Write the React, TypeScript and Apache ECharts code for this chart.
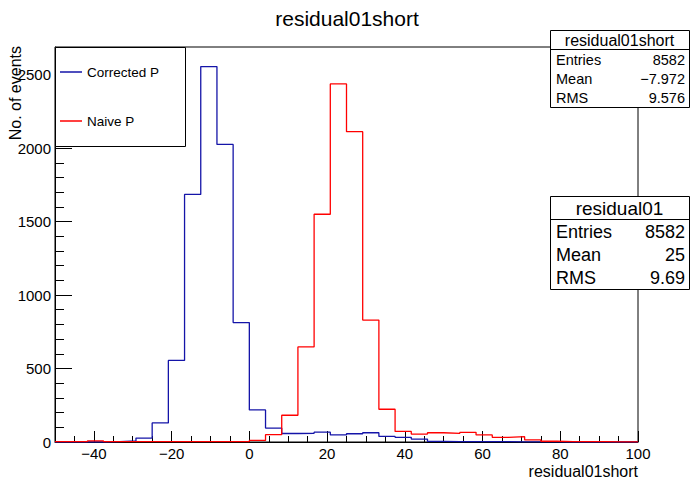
import React, { useEffect, useRef } from "react";
import * as echarts from "echarts";

const BIN_MIN = -50;
const BIN_MAX = 100;
const N_BINS = 36;

const correctedP = [0, 0, 0, 3, 7, 27, 130, 555, 1685, 2555, 2025, 813, 218, 95, 58, 59, 67, 48, 56, 63, 38, 32, 20, 4, 3, 3, 2, 2, 1, 1, 1, 0, 0, 0, 0, 0];
const naiveP = [2, 2, 7, 2, 2, 2, 2, 2, 2, 2, 3, 3, 11, 50, 182, 647, 1550, 2437, 2112, 830, 223, 72, 54, 63, 59, 66, 48, 32, 36, 14, 5, 3, 2, 2, 1, 1];

const xMajorTicks = [-40, -20, 0, 20, 40, 60, 80, 100];
const yMajorTicks = [0, 500, 1000, 1500, 2000, 2500];
const yMax = 2688;

const statsShort = { title: "residual01short", entries: "8582", mean: "\u22127.972", rms: "9.576" };
const statsNaive = { title: "residual01", entries: "8582", mean: "25", rms: "9.69" };

const FONT = "Liberation Sans, Arial, Helvetica, sans-serif";
const BLUE = "#1414a8";
const RED = "#ff0000";

function stepData(values: number[]) {
  const w = (BIN_MAX - BIN_MIN) / N_BINS;
  const pts: number[][] = values.map((v, i) => [BIN_MIN + i * w, v]);
  pts.push([BIN_MAX, values[values.length - 1]]);
  return pts;
}

function statBox(
  s: { title: string; entries: string; mean: string; rms: string },
  x: number,
  y: number,
  w: number,
  h: number,
  headFont: number,
  rowFont: number
) {
  const rowH = h / 4;
  const els: any[] = [
    { type: "rect", z: 5, shape: { x: x + 0.5, y: y + 0.5, width: w, height: h }, style: { fill: "#fff", stroke: "#000", lineWidth: 1 } },
    { type: "line", z: 6, shape: { x1: x + 0.5, y1: Math.round(y + rowH) + 0.5, x2: x + w + 0.5, y2: Math.round(y + rowH) + 0.5 }, style: { stroke: "#000", lineWidth: 1 } },
    {
      type: "text", z: 7,
      style: { text: s.title, x: x + w / 2, y: y + rowH / 2 + 1, font: `${headFont}px ${FONT}`, fill: "#000", textAlign: "center", textVerticalAlign: "middle", align: "center", verticalAlign: "middle" },
    },
  ];
  const rows = [
    ["Entries", s.entries],
    ["Mean", s.mean],
    ["RMS", s.rms],
  ];
  rows.forEach((r, i) => {
    const cy = y + rowH * (i + 1.5) + 1;
    els.push({
      type: "text", z: 7,
      style: { text: r[0], x: x + 6, y: cy, font: `${rowFont}px ${FONT}`, fill: "#000", textAlign: "left", textVerticalAlign: "middle", align: "left", verticalAlign: "middle" },
    });
    els.push({
      type: "text", z: 7,
      style: { text: r[1], x: x + w - 4, y: cy, font: `${rowFont}px ${FONT}`, fill: "#000", textAlign: "right", textVerticalAlign: "middle", align: "right", verticalAlign: "middle" },
    });
  });
  return els;
}

export default function App() {
  const ref = useRef<HTMLDivElement>(null);
  useEffect(() => {
    if (!ref.current) return;
    const chart = echarts.init(ref.current, undefined, { renderer: "svg" });
    const axisText = { color: "#000", fontSize: 15, fontFamily: FONT };
    chart.setOption({
      animation: false,
      backgroundColor: "#fff",
      title: {
        text: "residual01short",
        left: "center",
        top: 3,
        textStyle: { fontSize: 21, fontWeight: "normal", color: "#000", fontFamily: FONT },
      },
      legend: {
        data: [
          { name: "Corrected P", icon: "rect", itemStyle: { color: BLUE } },
          { name: "Naive P", icon: "rect", itemStyle: { color: RED } },
        ],
        orient: "vertical",
        left: 60,
        top: 65,
        padding: 0,
        itemWidth: 22,
        itemHeight: 1.5,
        itemGap: 35,
        textStyle: { fontSize: 13.5, color: "#000", fontFamily: FONT, lineHeight: 14, height: 14 },
        z: 6,
      },
      grid: { left: 55, right: 56, top: 47, bottom: 37, show: true, borderColor: "#000", borderWidth: 1, backgroundColor: "transparent" },
      xAxis: [
        {
          type: "value",
          min: BIN_MIN,
          max: BIN_MAX,
          position: "bottom",
          axisLine: { show: true, onZero: false, lineStyle: { color: "#000", width: 1 } },
          axisTick: { show: true, inside: true, length: 11, customValues: xMajorTicks, lineStyle: { color: "#000" } },
          axisLabel: { ...axisText, margin: 4, customValues: xMajorTicks, formatter: (v: number) => String(v).replace("-", "\u2212") },
          splitLine: { show: false },
        },
        {
          type: "value",
          min: BIN_MIN,
          max: BIN_MAX,
          interval: 5,
          position: "bottom",
          axisLine: { show: false, onZero: false },
          axisTick: { show: true, inside: true, length: 6, lineStyle: { color: "#000" } },
          axisLabel: { show: false },
          splitLine: { show: false },
        },
      ],
      yAxis: [
        {
          type: "value",
          min: 0,
          max: yMax,
          position: "left",
          axisLine: { show: true, onZero: false, lineStyle: { color: "#000", width: 1 } },
          axisTick: { show: true, inside: true, length: 17, customValues: yMajorTicks, lineStyle: { color: "#000" } },
          axisLabel: { ...axisText, margin: 4, customValues: yMajorTicks, formatter: (v: number) => String(v) },
          splitLine: { show: false },
        },
        {
          type: "value",
          min: 0,
          max: yMax,
          interval: 100,
          position: "left",
          axisLine: { show: false, onZero: false },
          axisTick: { show: true, inside: true, length: 9, lineStyle: { color: "#000" } },
          axisLabel: { show: false },
          splitLine: { show: false },
        },
      ],
      series: [
        {
          name: "Corrected P",
          type: "line",
          step: "end",
          symbol: "none",
          xAxisIndex: 0,
          yAxisIndex: 0,
          data: stepData(correctedP),
          lineStyle: { color: BLUE, width: 1.3 },
          itemStyle: { color: BLUE },
        },
        {
          name: "Naive P",
          type: "line",
          step: "end",
          symbol: "none",
          xAxisIndex: 0,
          yAxisIndex: 0,
          data: stepData(naiveP),
          lineStyle: { color: RED, width: 1.3 },
          itemStyle: { color: RED },
        },
      ],
      graphic: [
        { type: "rect", z: 3, shape: { x: 55.5, y: 47.5, width: 130, height: 99 }, style: { fill: "#fff", stroke: "#000", lineWidth: 1 } },
        {
          type: "text", z: 7, rotation: Math.PI / 2, x: 15, y: 46,
          style: { text: "No. of events", x: 0, y: 0, font: `16px ${FONT}`, fill: "#000", textAlign: "right", textVerticalAlign: "middle", align: "right", verticalAlign: "middle" },
        },
        {
          type: "text", z: 7,
          style: { text: "residual01short", x: 638, y: 471, font: `16px ${FONT}`, fill: "#000", textAlign: "right", textVerticalAlign: "middle", align: "right", verticalAlign: "middle" },
        },
        ...statBox(statsShort, 550, 30, 139, 77, 16, 14.5),
        ...statBox(statsNaive, 550, 196, 139, 93, 19, 18),
      ],
    });
    return () => chart.dispose();
  }, []);
  return <div ref={ref} style={{ width: 694, height: 479, position: "absolute", left: 0, top: 0 }} />;
}
